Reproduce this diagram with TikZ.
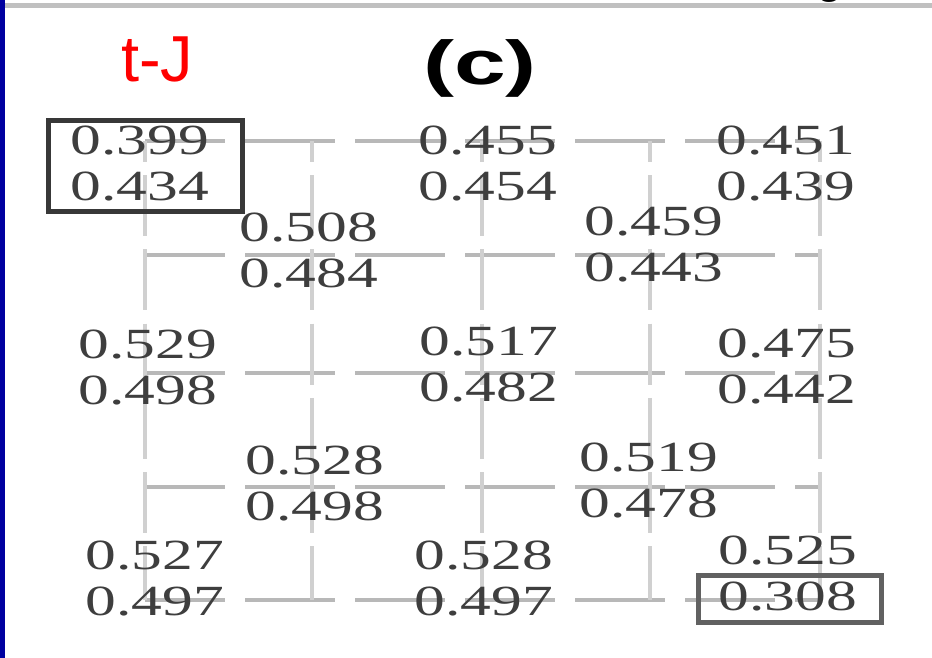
\documentclass[tikz,border=0pt]{standalone}
\usepackage{fontspec}
\setmainfont{Liberation Serif}
\setsansfont{Liberation Sans}
\usepackage{graphicx}
\usepackage{xcolor}
\usetikzlibrary{positioning}

\definecolor{frameblue}{RGB}{0,0,160}
\definecolor{rulegray}{RGB}{192,192,192}
\definecolor{hbondgray}{RGB}{184,184,184}
\definecolor{vbondgray}{RGB}{208,208,208}
\definecolor{valgray}{RGB}{62,62,62}

% the numbers are set wide
\newcommand{\wide}[1]{\scalebox{1.43}[1]{#1}}

\begin{document}
\begin{tikzpicture}[x=1pt, y=-1pt,
    hbond/.style={draw=hbondgray, line width=4pt, dash pattern=on 90pt off 20pt, dash phase=10pt},
    vbond/.style={draw=vbondgray, line width=4.5pt, dash pattern=on 61pt off 13.2pt, dash phase=40pt},
    val/.style={align=center, inner sep=0pt, text=valgray, font=\fontsize{43}{46}\selectfont},
    hilite/.style={draw=black!78, line width=5pt}]
    \useasboundingbox[fill=white] (0,0) rectangle (932,658);
    \fill[frameblue] (0,0) rectangle (5,658);
    \fill[rulegray] (5,3.5) rectangle (932,8.5);
    \begin{scope}
        \clip (5,0) rectangle (932,3.5);
        \node[anchor=base, inner sep=0pt, font=\sffamily\fontsize{48}{48}\selectfont] (cutg) at (830,-7) {g};
    \end{scope}

    \node[anchor=base west, inner sep=0pt, text=red, font=\sffamily\fontsize{65}{65}\selectfont] (model) at (121,82) {t-J};
    \node[anchor=base, inner sep=0pt, font=\sffamily\bfseries\fontsize{62}{62}\selectfont] (panel) at (480,85) {\scalebox{1.5}[1]{(c)}};

    % lattice sites
    \foreach \i/\x in {0/145,1/312,2/482,3/650,4/820}
        \foreach \j/\y in {0/141,1/255,2/373,3/487,4/600}
            \coordinate (g\i\j) at (\x,\y);

    \foreach \j in {0,...,4}
        \draw[hbond] (g0\j) -- (g4\j);
    \foreach \i in {0,...,4}
        \draw[vbond] (g\i0) -- (g\i4);

    % two values per site
    \node[val] (v00) at (140,163.5) {\wide{0.399}\\\wide{0.434}};
    \node[val] (v20) at (488,163.5) {\wide{0.455}\\\wide{0.454}};
    \node[val] (v40) at (786,163.5) {\wide{0.451}\\\wide{0.439}};
    \node[val] (v11) at (309,250.5) {\wide{0.508}\\\wide{0.484}};
    \node[val] (v31) at (654,245) {\wide{0.459}\\\wide{0.443}};
    \node[val] (v02) at (148,367.5) {\wide{0.529}\\\wide{0.498}};
    \node[val] (v22) at (489,365) {\wide{0.517}\\\wide{0.482}};
    \node[val] (v42) at (787,366.5) {\wide{0.475}\\\wide{0.442}};
    \node[val] (v13) at (315,483.5) {\wide{0.528}\\\wide{0.498}};
    \node[val] (v33) at (649,481) {\wide{0.519}\\\wide{0.478}};
    \node[val] (v04) at (155,579) {\wide{0.527}\\\wide{0.497}};
    \node[val] (v24) at (484,579) {\wide{0.528}\\\wide{0.497}};
    \node[val] (v44) at (788,574) {\wide{0.525}\\\wide{0.308}};

    \draw[hilite] (48,121) rectangle (242,211);
    \draw[hilite, draw=black!62] (698,575) rectangle (881,622);
\end{tikzpicture}
\end{document}
